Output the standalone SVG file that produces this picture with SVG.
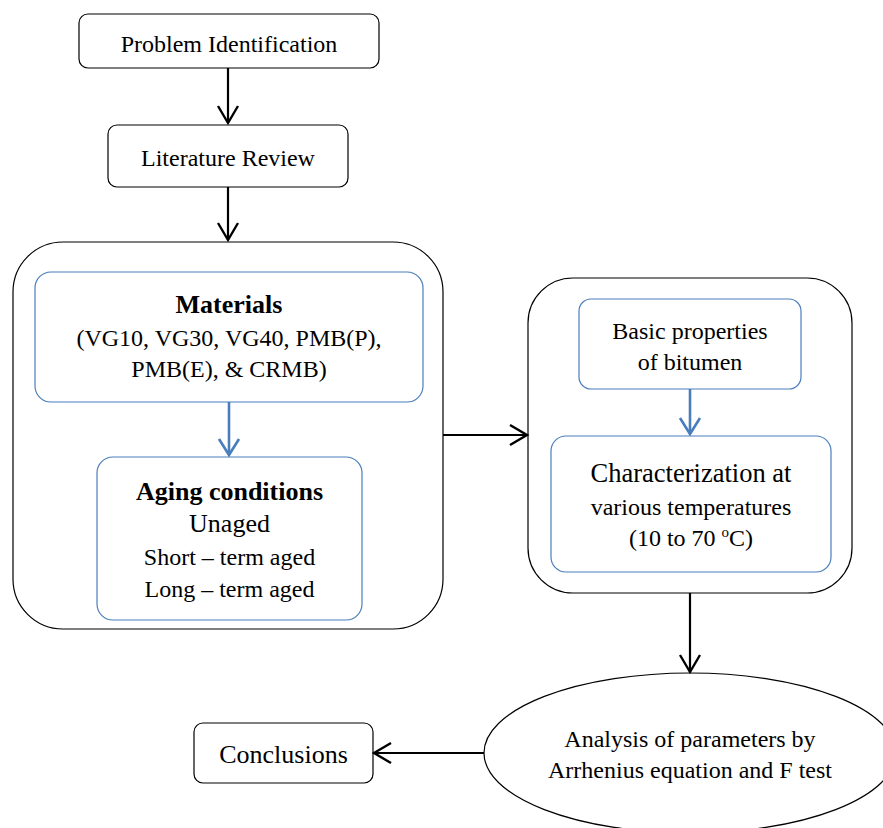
<svg xmlns="http://www.w3.org/2000/svg" width="883" height="828" viewBox="0 0 883 828">
  <style>
    .box { fill: #ffffff; stroke: #000000; stroke-width: 1.2; }
    .inner { fill: #ffffff; stroke: #4a7ebb; stroke-width: 1.2; }
    .t { font-family: "Liberation Serif", "Times New Roman", serif; font-size: 24px; fill: #000000; text-anchor: middle; }
    .b { font-weight: bold; font-size: 26px; }
    .big { font-size: 26px; }
    .link { stroke: #000000; stroke-width: 2.2; fill: none; marker-end: url(#head); }
    .blue { stroke: #4a7ebb; stroke-width: 2.6; fill: none; marker-end: url(#headBlue); }
  </style>
  <defs>
    <marker id="head" markerUnits="userSpaceOnUse" viewBox="-20 -12 22 24" refX="0" refY="0" markerWidth="22" markerHeight="24" orient="auto" overflow="visible">
      <path d="M-17,-10 L0,0 L-17,10" fill="none" stroke="#000000" stroke-width="2.4"/>
    </marker>
    <marker id="headBlue" markerUnits="userSpaceOnUse" viewBox="-20 -12 22 24" refX="0" refY="0" markerWidth="22" markerHeight="24" orient="auto" overflow="visible">
      <path d="M-16,-10 L0,0 L-16,10" fill="none" stroke="#4a7ebb" stroke-width="2.6"/>
    </marker>
  </defs>

  <g id="problem">
    <rect class="box" x="79" y="14" width="300" height="54" rx="9"/>
    <text class="t" x="229" y="52">Problem Identification</text>
  </g>

  <g id="literature">
    <rect class="box" x="108" y="125" width="240" height="62" rx="9"/>
    <text class="t" x="228" y="166">Literature Review</text>
  </g>

  <g id="preparation">
    <rect class="box" x="13" y="242" width="430" height="387" rx="50"/>
    <g id="materials">
      <rect class="inner" x="35" y="272" width="388" height="130" rx="16"/>
      <text class="t b" x="229" y="313">Materials</text>
      <text class="t" x="229" y="346">(VG10, VG30, VG40, PMB(P),</text>
      <text class="t" x="229" y="377">PMB(E), &amp; CRMB)</text>
    </g>
    <g id="aging">
      <rect class="inner" x="97" y="457" width="265" height="163" rx="16"/>
      <text class="t b" x="229.5" y="500">Aging conditions</text>
      <text class="t big" x="229.5" y="532">Unaged</text>
      <text class="t" x="229.5" y="565">Short – term aged</text>
      <text class="t" x="229.5" y="597">Long – term aged</text>
    </g>
  </g>

  <g id="testing">
    <rect class="box" x="528" y="278" width="324" height="315" rx="45"/>
    <g id="basic">
      <rect class="inner" x="579" y="299" width="222" height="90" rx="12"/>
      <text class="t" x="690" y="339">Basic properties</text>
      <text class="t" x="690" y="370">of bitumen</text>
    </g>
    <g id="characterization">
      <rect class="inner" x="551" y="436" width="280" height="136" rx="15"/>
      <text class="t" x="691" y="482" style="font-size:26.5px">Characterization at</text>
      <text class="t" x="691" y="515">various temperatures</text>
      <text class="t" x="691" y="546">(10 to 70 <tspan font-size="15" dy="-9">o</tspan><tspan dy="9">C)</tspan></text>
    </g>
  </g>

  <g id="analysis">
    <ellipse class="box" cx="690" cy="753" rx="206" ry="80"/>
    <text class="t" x="690" y="747">Analysis of parameters by</text>
    <text class="t" x="690" y="778">Arrhenius equation and F test</text>
  </g>

  <g id="conclusions">
    <rect class="box" x="194" y="723" width="179" height="60" rx="9"/>
    <text class="t big" x="283.5" y="763">Conclusions</text>
  </g>

  <g id="connectors">
    <line class="link" x1="228" y1="68" x2="228" y2="123"/>
    <line class="link" x1="228" y1="187" x2="228" y2="240"/>
    <line class="link" x1="443" y1="435" x2="527" y2="435"/>
    <line class="link" x1="690" y1="593" x2="690" y2="672"/>
    <line class="link" x1="484" y1="753" x2="374" y2="753"/>
    <line class="blue" x1="229" y1="402" x2="229" y2="455"/>
    <line class="blue" x1="690" y1="389" x2="690" y2="434"/>
  </g>
</svg>
